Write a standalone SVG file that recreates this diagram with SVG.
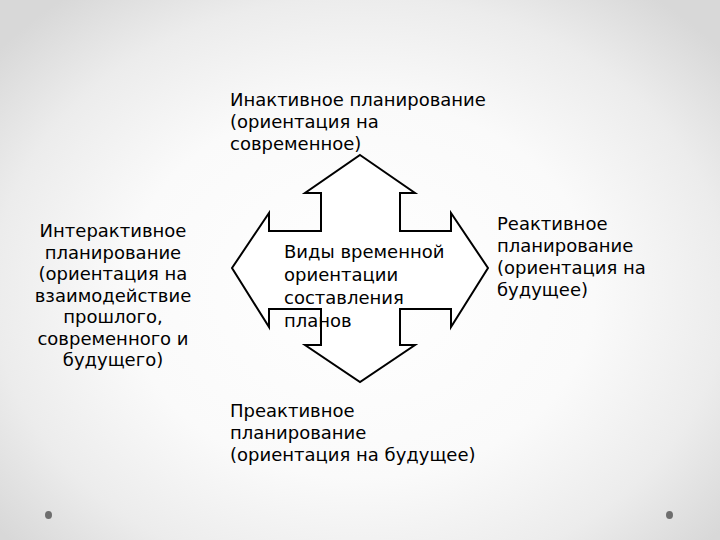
<svg xmlns="http://www.w3.org/2000/svg" width="720" height="540" viewBox="0 0 720 540">
<defs>
<radialGradient id="bg" cx="360" cy="290" r="470" gradientUnits="userSpaceOnUse" gradientTransform="translate(360 290) scale(1 0.8) translate(-360 -290)">
<stop offset="0" stop-color="#ffffff"/>
<stop offset="0.5" stop-color="#fafafa"/>
<stop offset="0.78" stop-color="#ececec"/>
<stop offset="1" stop-color="#d8d8d8"/>
</radialGradient>
<style>
text{font-family:"DejaVu Sans",sans-serif;font-size:18px;fill:#000}
.c{text-anchor:middle}
.dot{fill:#6e6e6e}
</style>
</defs>
<rect width="720" height="540" fill="url(#bg)"/>
<g id="connectors">
<path id="cross" d="M360,155 L415,193 L400,193 L400,231 L451,231 L451,213 L488,268 L451,327 L451,309 L400,309 L400,345 L415,345 L360,382 L305,345 L321,345 L321,309 L269,309 L269,327 L232,268 L269,213 L269,231 L321,231 L321,193 L305,193 Z" fill="#ffffff" stroke="#000" stroke-width="2" stroke-linejoin="miter"/>
</g>
<g id="center">
<text x="284" y="258">Виды временной</text>
<text x="284" y="281">ориентации</text>
<text x="284" y="304">составления</text>
<text x="284" y="327">планов</text>
</g>
<g id="top">
<text x="230" y="106">Инактивное планирование</text>
<text x="230" y="128">(ориентация на</text>
<text x="230" y="150">современное)</text>
</g>
<g id="left">
<text class="c" x="113" y="237">Интерактивное</text>
<text class="c" x="113" y="259">планирование</text>
<text class="c" x="113" y="280">(ориентация на</text>
<text class="c" x="113" y="302">взаимодействие</text>
<text class="c" x="113" y="323">прошлого,</text>
<text class="c" x="113" y="345">современного и</text>
<text class="c" x="113" y="366">будущего)</text>
</g>
<g id="right">
<text x="497" y="230">Реактивное</text>
<text x="497" y="252">планирование</text>
<text x="497" y="274">(ориентация на</text>
<text x="497" y="296">будущее)</text>
</g>
<g id="bottom">
<text x="230" y="417">Преактивное</text>
<text x="230" y="439">планирование</text>
<text x="230" y="461">(ориентация на будущее)</text>
</g>
<ellipse class="dot" cx="48.5" cy="515" rx="3.5" ry="4"/>
<ellipse class="dot" cx="669.5" cy="515" rx="3.5" ry="4"/>
</svg>
